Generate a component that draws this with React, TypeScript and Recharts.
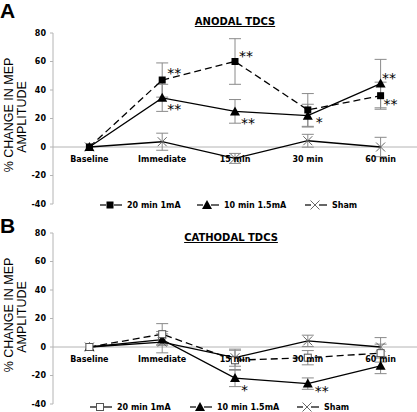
import React from 'react';
import { LineChart, Line, XAxis, YAxis, ErrorBar, ReferenceLine, ReferenceDot } from 'recharts';

// time points
const times = ['Baseline', 'Immediate', '15 min', '30 min', '60 min'];
const yTicks = [-40, -20, 0, 20, 40, 60, 80];

// A: anodal tDCS
const anodal20 = [0, 47, 60, 26, 36];
const anodal20Err = [0, 12, 16, 11.5, 9.5];
const anodal10 = [0, 34.5, 25, 22, 44.5];
const anodal10Err = [0, 9.5, 8.3, 8, 17];
const anodalSham = [0, 3.7, -8, 4.4, 0];
const anodalShamErr = [0, 6, 3.5, 4.5, 6.8];
const anodal20Stars = ['', '**', '**', '', '**'];
const anodal10Stars = ['', '**', '**', '*', '**'];

// B: cathodal tDCS
const cathodal20 = [0, 9, -9.3, -7.5, -4.3];
const cathodal20Err = [0, 7.4, 7, 5, 6.3];
const cathodal10 = [0, 5.2, -21.8, -25.7, -13.2];
const cathodal10Err = [0, 4, 6, 4, 5.5];
const cathodalSham = [0, 3.4, -7.5, 4.3, 0];
const cathodalShamErr = [0, 7.5, 6, 4, 6.6];
const cathodal10Stars = ['', '', '*', '**', ''];

// star placement relative to the point: [dx of text start, dy of glyph centre]
const anodal20StarPos = [[0, 0], [5, -10], [4, -9], [0, 0], [3, 5]];
const anodal10StarPos = [[0, 0], [5, 8], [6, 8.5], [8, 3], [1.5, -9]];
const cathodal10StarPos = [[0, 0], [0, 0], [6, 9], [7, 4], [0, 0]];

const VERDANA = '"DejaVu Sans", Verdana, sans-serif';
const ARIAL = '"Liberation Sans", Arial, sans-serif';
const GRAY = '#b4b4b4';
const ERR = '#8a8a8a';

type Marker = 'square' | 'openSquare' | 'triangle' | 'cross';

interface Series {
  key: string;
  name: string;
  values: number[];
  err: number[];
  marker: Marker;
  dashed: boolean;
  stars?: string[];
  starPos?: number[][];
}

const drawMarker = (kind: Marker, cx: number, cy: number) => {
  if (kind === 'square') return <rect x={cx - 3.5} y={cy - 3.5} width={7} height={7} fill="#000" />;
  if (kind === 'openSquare')
    return <rect x={cx - 3.5} y={cy - 3.5} width={7} height={7} fill="#fff" stroke="#555" strokeWidth={1} />;
  if (kind === 'triangle')
    return <polygon points={`${cx},${cy - 5} ${cx - 5},${cy + 4} ${cx + 5},${cy + 4}`} fill="#000" />;
  return (
    <g stroke="#666" strokeWidth={1}>
      <line x1={cx - 4.5} y1={cy - 4.5} x2={cx + 4.5} y2={cy + 4.5} />
      <line x1={cx - 4.5} y1={cy + 4.5} x2={cx + 4.5} y2={cy - 4.5} />
    </g>
  );
};

const makeDot = (s: Series) => (props: any) => {
  const { cx, cy, index } = props;
  const star = s.stars ? s.stars[index] : '';
  const pos = s.starPos ? s.starPos[index] : [0, 0];
  return (
    <g key={`${s.key}-${index}`}>
      {drawMarker(s.marker, cx, cy)}
      {star && (
        <text x={cx + pos[0]} y={cy + pos[1] + 8} fontSize={14} fontFamily={VERDANA} fill="#000">
          {star}
        </text>
      )}
    </g>
  );
};

const Panel = ({ series }: { series: Series[] }) => {
  const data = times.map((t, i) => {
    const row: any = { time: t };
    series.forEach((s) => {
      row[s.key] = s.values[i];
      row[s.key + 'Err'] = s.err[i];
    });
    return row;
  });

  return (
    <LineChart width={417} height={212} data={data} margin={{ top: 33, right: 0, bottom: 8, left: 0 }}>
      <XAxis dataKey="time" type="category" scale="band" hide />
      <YAxis
        domain={[-40, 80]}
        ticks={yTicks}
        width={53}
        axisLine={{ stroke: GRAY }}
        tickLine={{ stroke: GRAY }}
        tickSize={3}
        tickMargin={4}
        tick={{ fill: '#000', fontSize: 8, fontWeight: 'bold', fontFamily: VERDANA }}
        interval={0}
      />
      <ReferenceLine y={0} stroke={GRAY} />
      {times.map((t) => (
        <ReferenceDot
          key={t}
          x={t}
          y={0}
          r={0}
          stroke="none"
          fill="none"
          label={{ value: t, position: 'bottom', offset: 9, fill: '#000', fontSize: 8, fontWeight: 'bold', fontFamily: VERDANA }}
        />
      ))}
      {series.map((s) => (
        <Line
          key={s.key}
          dataKey={s.key}
          type="linear"
          stroke="#000"
          strokeWidth={1.3}
          strokeDasharray={s.dashed ? '7 4' : undefined}
          dot={makeDot(s)}
          activeDot={false}
          isAnimationActive={false}
        >
          <ErrorBar dataKey={s.key + 'Err'} direction="y" width={6} stroke={ERR} strokeWidth={1} />
        </Line>
      ))}
    </LineChart>
  );
};

const Legend = ({ series, xs, y }: { series: Series[]; xs: number[]; y: number }) => (
  <g>
    {series.map((s, i) => {
      const x0 = xs[i];
      const mid = x0 + 10;
      return (
        <g key={s.key}>
          <line x1={x0} y1={y} x2={mid - 4} y2={y} stroke="#000" strokeWidth={1.2} />
          <line x1={mid + 4} y1={y} x2={x0 + 22} y2={y} stroke="#000" strokeWidth={1.2} />
          {drawMarker(s.marker, mid, y)}
          <text x={x0 + 27} y={y + 3} fontSize={8} fontWeight="bold" fontFamily={VERDANA} fill="#000">
            {s.name}
          </text>
        </g>
      );
    })}
  </g>
);

const anodalSeries: Series[] = [
  { key: 'sham', name: 'Sham', values: anodalSham, err: anodalShamErr, marker: 'cross', dashed: false },
  { key: 'm10', name: '10 min 1.5mA', values: anodal10, err: anodal10Err, marker: 'triangle', dashed: false, stars: anodal10Stars, starPos: anodal10StarPos },
  { key: 'm20', name: '20 min 1mA', values: anodal20, err: anodal20Err, marker: 'square', dashed: true, stars: anodal20Stars, starPos: anodal20StarPos },
];

const cathodalSeries: Series[] = [
  { key: 'sham', name: 'Sham', values: cathodalSham, err: cathodalShamErr, marker: 'cross', dashed: false },
  { key: 'm10', name: '10 min 1.5mA', values: cathodal10, err: cathodal10Err, marker: 'triangle', dashed: false, stars: cathodal10Stars, starPos: cathodal10StarPos },
  { key: 'm20', name: '20 min 1mA', values: cathodal20, err: cathodal20Err, marker: 'openSquare', dashed: true },
];

const YLabel = ({ top }: { top: number }) => (
  <g fontFamily={ARIAL} fontSize={12.5} fill="#000" textAnchor="middle">
    <text transform={`translate(13, ${top + 115}) rotate(-90)`}>% CHANGE IN MEP</text>
    <text transform={`translate(26, ${top + 117}) rotate(-90)`}>AMPLITUDE</text>
  </g>
);

export default function App() {
  const legendOrder = (s: Series[]) => [s[2], s[1], s[0]];
  return (
    <div style={{ position: 'relative', width: 417, height: 412, background: '#fff' }}>
      <style>{'body { margin: 0; }'}</style>
      <svg width={417} height={412} style={{ position: 'absolute', left: 0, top: 0 }}>
        <text x={0} y={18} fontSize={21} fontWeight="bold" fontFamily={ARIAL}>A</text>
        <text x={0} y={233} fontSize={21} fontWeight="bold" fontFamily={ARIAL}>B</text>
        <text x={235} y={25} textAnchor="middle" fontSize={10} fontWeight="bold" fontFamily={VERDANA} textDecoration="underline">
          ANODAL TDCS
        </text>
        <text x={231} y={241} textAnchor="middle" fontSize={10} fontWeight="bold" fontFamily={VERDANA} textDecoration="underline">
          CATHODAL TDCS
        </text>
        <YLabel top={0} />
        <YLabel top={200} />
      </svg>
      <div style={{ position: 'absolute', left: 0, top: 0 }}>
        <Panel series={anodalSeries} />
      </div>
      <div style={{ position: 'absolute', left: 0, top: 200 }}>
        <Panel series={cathodalSeries} />
      </div>
      <svg width={417} height={412} style={{ position: 'absolute', left: 0, top: 0 }}>
        <Legend series={legendOrder(anodalSeries)} xs={[100, 197, 305]} y={205} />
        <Legend series={legendOrder(cathodalSeries)} xs={[90, 190, 297]} y={407} />
      </svg>
    </div>
  );
}
